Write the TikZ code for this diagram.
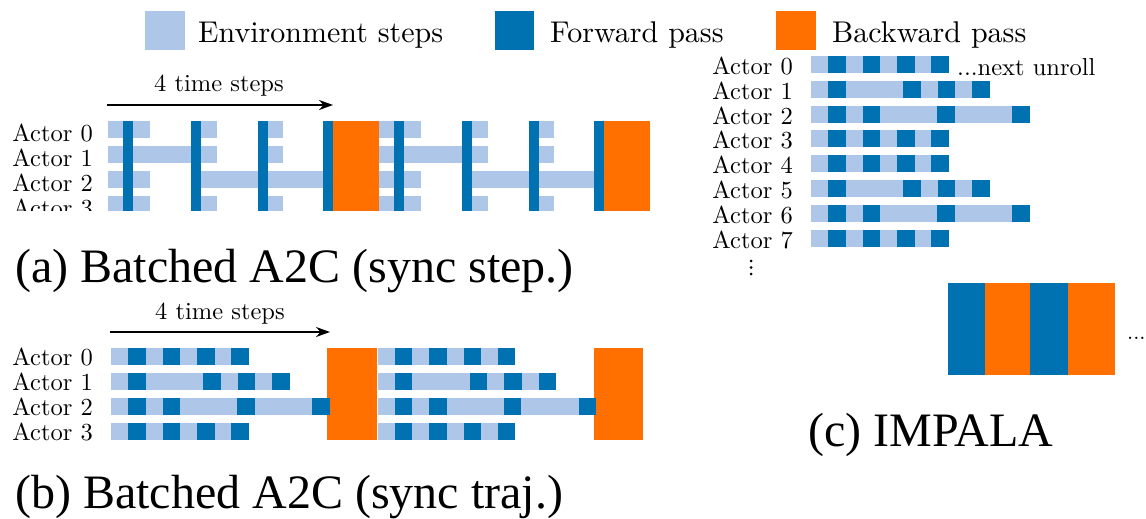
\documentclass[tikz,border=0pt]{standalone}
\usepackage{fontspec}
\setmainfont{lmroman10-regular.otf}
\newfontfamily\capfont{Liberation Serif}
\usetikzlibrary{arrows.meta}
\definecolor{envc}{RGB}{174,199,232}
\definecolor{fwdc}{RGB}{0,114,178}
\definecolor{bwdc}{RGB}{255,112,0}

% one actor trajectory: light bar from #1 of length #4 at top #2,
% with forward-pass squares at the offsets listed in #3
\newcommand{\envrow}[4]{%
  \fill[envc] (#1,#2) rectangle ++(#4,17);
  \foreach \o in {#3} {\fill[fwdc] (#1+\o,#2) rectangle ++(17.5,17);}
}

\begin{document}
\begin{tikzpicture}[x=1pt,y=-1pt,
  lbl/.style={inner sep=0pt, font=\fontsize{24.5}{28}\selectfont},
  actor/.style={lbl, anchor=base east},
  legendtxt/.style={inner sep=0pt, anchor=base west, font=\fontsize{30}{34}\selectfont},
  caption/.style={inner sep=0pt, anchor=base west, font=\capfont\fontsize{48}{56}\selectfont},
  timearrow/.style={line width=1.8pt, -{Stealth[length=14pt,width=10pt]}},
]
\useasboundingbox (0,0) rectangle (1146,519);

% ---------- legend ----------
\fill[envc] (145,11) rectangle (185,50);
\node[legendtxt] (lenv) at (198,43) {Environment steps};
\fill[fwdc] (495,11) rectangle (534,50);
\node[legendtxt] (lfwd) at (550,43) {Forward pass};
\fill[bwdc] (776,11) rectangle (816,50);
\node[legendtxt] (lbwd) at (832,43) {Backward pass};

% ---------- (a) synchronous steps ----------
\node[lbl, anchor=base] (tsa) at (219,92) {4 time steps};
\coordinate (tsa0) at (107,105);
\coordinate (tsa1) at (333,105);
\draw[timearrow] (tsa0) -- (tsa1);

\begin{scope}
\clip (0,60) rectangle (700,210.5);
\foreach \s in {0,271} {
  \fill[envc] (108+\s,121) rectangle (150+\s,138);
  \fill[envc] (200+\s,121) rectangle (217+\s,138);
  \fill[envc] (268+\s,121) rectangle (283+\s,138);
  \fill[envc] (108+\s,146) rectangle (217+\s,163);
  \fill[envc] (268+\s,146) rectangle (283+\s,163);
  \fill[envc] (108+\s,171) rectangle (150+\s,188);
  \fill[envc] (200+\s,171) rectangle (323+\s,188);
  \fill[envc] (108+\s,196) rectangle (150+\s,213);
  \fill[envc] (200+\s,196) rectangle (217+\s,213);
  \fill[envc] (268+\s,196) rectangle (283+\s,213);
  \foreach \b in {123,191,258,323} {\fill[fwdc] (\b+\s,121) rectangle (\b+\s+9.5,211);}
  \fill[bwdc] (332.5+\s,121) rectangle (379+\s,211);
}
\node[actor] (a0) at (93,141) {Actor 0};
\node[actor] (a1) at (93,166) {Actor 1};
\node[actor] (a2) at (93,191) {Actor 2};
\node[actor] (a3) at (93,216) {Actor 3};
\end{scope}
\node[caption] (capa) at (15,282) {(a) Batched A2C (sync step.)};

% ---------- (b) synchronous trajectories ----------
\node[lbl, anchor=base] (tsb) at (220,319) {4 time steps};
\coordinate (tsb0) at (110,332);
\coordinate (tsb1) at (330,332);
\draw[timearrow] (tsb0) -- (tsb1);

\fill[bwdc] (327,348) rectangle (377,440);
\fill[bwdc] (594,348) rectangle (643,440);
\foreach \s in {111,377.5} {
  \envrow{\s}{348}{17,51.5,86,120}{137.5}
  \envrow{\s}{373}{17,92,126.5,161}{178.5}
  \envrow{\s}{398}{17,51.5,126,201}{218.5}
  \envrow{\s}{423}{17,51.5,86,120}{137.5}
}
\node[actor] (b0) at (93,365) {Actor 0};
\node[actor] (b1) at (93,390) {Actor 1};
\node[actor] (b2) at (93,415) {Actor 2};
\node[actor] (b3) at (93,440) {Actor 3};
\node[caption] (capb) at (15,508) {(b) Batched A2C (sync traj.)};

% ---------- (c) IMPALA ----------
\envrow{811}{56}{17,51.5,86,120}{137.5}
\envrow{811}{80.8}{17,92,126.5,161}{178.5}
\envrow{811}{105.6}{17,51.5,126,201}{218.5}
\envrow{811}{130.4}{17,51.5,86,120}{137.5}
\envrow{811}{155.2}{17,51.5,86,120}{137.5}
\envrow{811}{180}{17,92,126.5,161}{178.5}
\envrow{811}{204.8}{17,51.5,126,201}{218.5}
\envrow{811}{229.6}{17,51.5,86,120}{137.5}
\foreach \i in {0,...,7} {
  \node[actor] (c\i) at (793,{56+24.8*\i+18.5}) {Actor \i};
}
\node[lbl, anchor=base west] (nextu) at (957,75) {...next unroll};
\foreach \d in {261,267.5,274} {\fill (751,\d) circle (1.5);}

\fill[fwdc] (948,283) rectangle (985,375);
\fill[bwdc] (985,283) rectangle (1030,375);
\fill[fwdc] (1030,283) rectangle (1068,375);
\fill[bwdc] (1068,283) rectangle (1115,375);
\node[inner sep=0pt, anchor=base west, font=\fontsize{22}{26}\selectfont] (more) at (1127,339.5) {...};
\node[caption] (capc) at (808,446) {(c) IMPALA};
\end{tikzpicture}
\end{document}
